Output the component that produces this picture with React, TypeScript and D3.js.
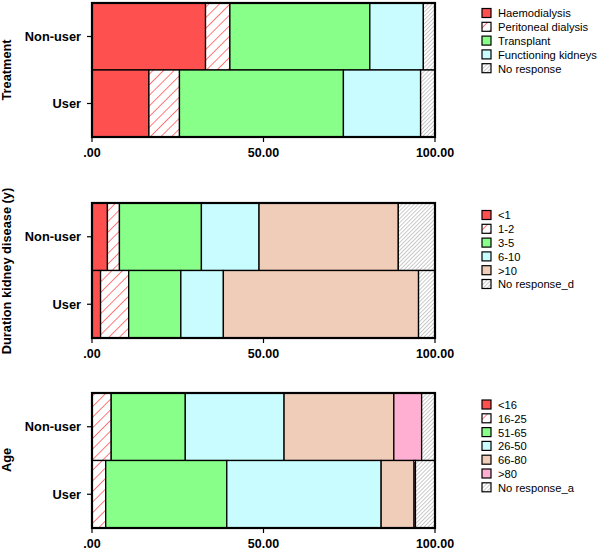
import React from "react";
import * as d3 from "d3";

const groups = ["Non-user", "User"];
const xTicks = [0, 50, 100];

const treatmentCats = ["Haemodialysis", "Peritoneal dialysis", "Transplant", "Functioning kidneys", "No response"];
const treatmentFills = ["red", "redHatch", "green", "cyan", "greyHatch"];
const treatmentNonUser = [33.1, 7.1, 40.8, 15.6, 3.4];
const treatmentUser = [16.6, 8.9, 47.8, 22.5, 4.2];

const durationCats = ["<1", "1-2", "3-5", "6-10", ">10", "No response_d"];
const durationFills = ["red", "redHatch", "green", "cyan", "peach", "greyHatch"];
const durationNonUser = [4.5, 3.5, 23.9, 16.8, 40.6, 10.7];
const durationUser = [2.5, 8.2, 15.2, 12.4, 56.9, 4.8];

const ageCats = ["<16", "16-25", "51-65", "26-50", "66-80", ">80", "No response_a"];
const ageFills = ["red", "redHatch", "green", "cyan", "peach", "pink", "greyHatch"];
const ageNonUser = [0, 5.6, 21.6, 28.8, 32.0, 8.1, 3.9];
const ageUser = [0, 4.0, 35.3, 45.0, 9.6, 0.4, 5.7];

const COLORS: Record<string, string> = {
  red: "#FF5050",
  green: "#88FF88",
  cyan: "#C8FCFF",
  peach: "#F0CDB9",
  pink: "#FFB0D2",
  redHatch: "url(#redHatch)",
  greyHatch: "url(#greyHatch)",
};

const FONT = "'Liberation Sans', Arial, Helvetica, sans-serif";

const x = d3.scaleLinear().domain([0, 100]).range([92, 435]);

type PanelProps = {
  title: string;
  top: number;
  bottom: number;
  cats: string[];
  fills: string[];
  nonUser: number[];
  user: number[];
  legendTop: number;
  titleY: number;
};

function Panel({ title, top, bottom, cats, fills, nonUser, user, legendTop, titleY }: PanelProps) {
  const y = d3.scaleBand().domain(groups).range([top, bottom]).padding(0);
  const rows = [nonUser, user];
  return (
    <g>
      {rows.map((vals, gi) => {
        const starts = d3.cumsum([0, ...vals]);
        return vals.map((v, i) =>
          v > 0 ? (
            <rect
              key={`${gi}-${i}`}
              x={x(starts[i])}
              y={y(groups[gi])!}
              width={x(starts[i] + v) - x(starts[i])}
              height={y.bandwidth()}
              fill={COLORS[fills[i]]}
              stroke="#000"
              strokeWidth={1.3}
            />
          ) : null
        );
      })}
      <rect x={x(0)} y={top} width={x(100) - x(0)} height={bottom - top} fill="none" stroke="#000" strokeWidth={2.2} />
      {groups.map((g) => (
        <g key={g}>
          <line x1={x(0) - 5} x2={x(0)} y1={y(g)! + y.bandwidth() / 2} y2={y(g)! + y.bandwidth() / 2} stroke="#000" strokeWidth={1.2} />
          <text x={x(0) - 11} y={y(g)! + y.bandwidth() / 2} dy="0.35em" textAnchor="end" fontFamily={FONT} fontWeight="bold" fontSize={12.8}>
            {g}
          </text>
        </g>
      ))}
      {xTicks.map((t) => (
        <g key={t}>
          <line x1={x(t)} x2={x(t)} y1={bottom} y2={bottom + 5} stroke="#000" strokeWidth={1.2} />
          <text x={x(t)} y={bottom + 19.5} textAnchor="middle" fontFamily={FONT} fontWeight="bold" fontSize={12.5}>
            {d3.format(".2f")(t).replace(/^0/, "")}
          </text>
        </g>
      ))}
      <text
        transform={`translate(11,${titleY}) rotate(-90)`}
        textAnchor="middle"
        fontFamily={FONT}
        fontWeight="bold"
        fontSize={12.8}
      >
        {title}
      </text>
      {cats.map((c, i) => (
        <g key={c} transform={`translate(482,${legendTop + i * 13.8})`}>
          <rect x={0} y={-5} width={9} height={9} fill={COLORS[fills[i]]} stroke="#000" strokeWidth={1.2} />
          <text x={16} y={0} dy="0.35em" fontFamily={FONT} fontSize={11.2}>
            {c}
          </text>
        </g>
      ))}
    </g>
  );
}

export default function App() {
  return (
    <svg width={600} height={549} style={{ position: "absolute", left: 0, top: 0, background: "#fff" }}>
      <defs>
        <pattern id="redHatch" patternUnits="userSpaceOnUse" width={7.5} height={7.5} patternTransform="rotate(45)">
          <rect width={7.5} height={7.5} fill="#fff" />
          <line x1={0} y1={0} x2={0} y2={7.5} stroke="#FF4040" strokeWidth={1.4} />
        </pattern>
        <pattern id="greyHatch" patternUnits="userSpaceOnUse" width={2.8} height={2.8} patternTransform="rotate(45)">
          <rect width={2.8} height={2.8} fill="#fff" />
          <line x1={0} y1={0} x2={0} y2={2.8} stroke="#888" strokeWidth={0.9} />
        </pattern>
      </defs>
      <Panel
        title="Treatment"
        top={3}
        bottom={137}
        cats={treatmentCats}
        fills={treatmentFills}
        nonUser={treatmentNonUser}
        user={treatmentUser}
        legendTop={13.5}
        titleY={70}
      />
      <Panel
        title="Duration kidney disease (y)"
        top={203}
        bottom={338}
        cats={durationCats}
        fills={durationFills}
        nonUser={durationNonUser}
        user={durationUser}
        legendTop={215.5}
        titleY={271}
      />
      <Panel
        title="Age"
        top={393}
        bottom={528}
        cats={ageCats}
        fills={ageFills}
        nonUser={ageNonUser}
        user={ageUser}
        legendTop={405}
        titleY={460}
      />
    </svg>
  );
}
